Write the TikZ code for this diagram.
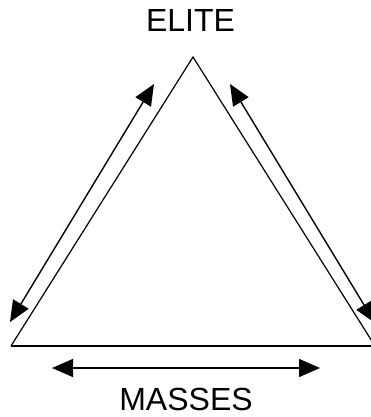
\documentclass[tikz,border=0pt]{standalone}
\usepackage{fontspec}
\setmainfont{Liberation Sans}
\usetikzlibrary{arrows.meta}
\begin{document}
\begin{tikzpicture}[x=1pt,y=-1pt,
  side/.style={line width=1.2pt},
  base/.style={line width=1.8pt},
  dbl/.style={line width=1.4pt,{Triangle[length=21pt,width=18pt]}-{Triangle[length=21pt,width=18pt]}},
  lbl/.style={font=\fontsize{32}{36}\selectfont,anchor=base,inner sep=0pt}]
\useasboundingbox (0,0) rectangle (371,417);
\clip (0,0) rectangle (371,417);
\node[lbl] (elite) at (190.5,32) {ELITE};
\node[lbl] (masses) at (186,410) {MASSES};
\coordinate (A) at (193,57);
\coordinate (B) at (11,346);
\coordinate (C) at (375,346);
\draw[side] (B) -- (A) -- (C);
\draw[base] (B) -- (C);
\coordinate (l1) at (154,84);
\coordinate (l2) at (10,322);
\coordinate (r1) at (230,84);
\coordinate (r2) at (375,323);
\coordinate (m1) at (52,368);
\coordinate (m2) at (320,368);
\draw[dbl] (l1) -- (l2);
\draw[dbl] (r1) -- (r2);
\draw[dbl] (m1) -- (m2);
\end{tikzpicture}
\end{document}
